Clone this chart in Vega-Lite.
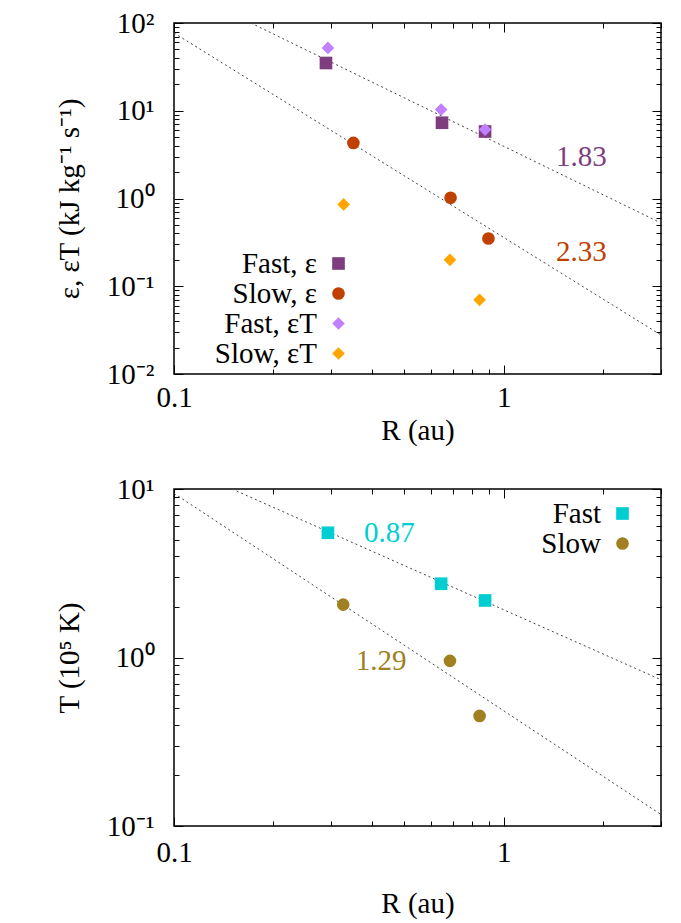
{
  "$schema": "https://vega.github.io/schema/vega-lite/v6.json",
  "background": "white",
  "padding": {"left": 54, "top": 8, "right": 5, "bottom": 5},
  "spacing": 28,
  "config": {
    "font": "Liberation Serif, Times New Roman, serif",
    "view": {"stroke": "#000", "strokeWidth": 1.5},
    "axis": {
      "domain": false, "grid": false,
      "labelFont": "Liberation Serif, Times New Roman, serif", "labelFontSize": 29, "labelColor": "#000",
      "titleFont": "Liberation Serif, Times New Roman, serif", "titleFontSize": 29, "titleFontWeight": "normal", "titleColor": "#000",
      "tickColor": "#000", "tickWidth": 1, "labelOverlap": false, "labelFlush": false, "labelBound": false
    },
    "legend": {
      "orient": "none", "labelFont": "Liberation Serif, Times New Roman, serif", "labelFontSize": 29, "labelColor": "#000",
      "labelAlign": "right", "labelOffset": -36, "labelLimit": 0, "symbolStrokeWidth": 0,
      "rowPadding": 0, "padding": 0, "symbolSize": 160, "title": null
    },
    "text": {"font": "Liberation Serif, Times New Roman, serif"}
  },
  "resolve": {
    "scale": {"color": "independent", "shape": "independent"},
    "legend": {"color": "independent", "shape": "independent"}
  },
  "vconcat": [
    {
      "width": 487, "height": 351,
      "layer": [
        {
          "data": {"values": [
            {"R": 0.171, "v": 100, "fit": "fast"}, {"R": 3, "v": 0.526, "fit": "fast"},
            {"R": 0.1, "v": 77, "fit": "slow"}, {"R": 3, "v": 0.0278, "fit": "slow"}
          ]},
          "mark": {"type": "line", "strokeDash": [2, 3], "color": "#444", "strokeWidth": 1, "clip": true},
          "encoding": {
            "x": {"field": "R", "type": "quantitative",
              "scale": {"type": "log", "domain": [0.1, 3], "nice": false},
              "axis": {"orient": "bottom", "title": "R (au)", "values": [0.1,0.2,0.3,0.4,0.5,0.6,0.7,0.8,0.9,1,2,3],
                "labelExpr": "datum.value==0.1?'0.1':datum.value==1?'1':''",
                "tickSize": {"condition": {"test": "indexof([0.1,1],datum.value)>=0", "value": -9}, "value": -5},
                "labelPadding": 18, "titlePadding": 0}},
            "y": {"field": "v", "type": "quantitative",
              "scale": {"type": "log", "domain": [0.01, 100], "nice": false},
              "axis": {"orient": "left", "title": "ε, εT (kJ kg⁻¹ s⁻¹)",
                "values": [0.01,0.02,0.03,0.04,0.05,0.06,0.07,0.08,0.09,0.1,0.2,0.3,0.4,0.5,0.6,0.7,0.8,0.9,1,2,3,4,5,6,7,8,9,10,20,30,40,50,60,70,80,90,100],
                "labelExpr": "datum.value==100?'10²':datum.value==10?'10¹':datum.value==1?'10⁰':datum.value==0.1?'10⁻¹':datum.value==0.01?'10⁻²':''",
                "tickSize": {"condition": {"test": "indexof([0.01,0.1,1,10,100],datum.value)>=0", "value": -9}, "value": -5},
                "labelPadding": 29, "titlePadding": 22}},
            "detail": {"field": "fit"}
          }
        },
        {
          "data": {"values": [
            {"R": 0.289, "v": 35, "series": "Fast, ε"},
            {"R": 0.650, "v": 7.3, "series": "Fast, ε"},
            {"R": 0.878, "v": 5.8, "series": "Fast, ε"},
            {"R": 0.350, "v": 4.3, "series": "Slow, ε"},
            {"R": 0.690, "v": 1.02, "series": "Slow, ε"},
            {"R": 0.899, "v": 0.35, "series": "Slow, ε"},
            {"R": 0.293, "v": 52, "series": "Fast, εT"},
            {"R": 0.646, "v": 10.3, "series": "Fast, εT"},
            {"R": 0.878, "v": 6.1, "series": "Fast, εT"},
            {"R": 0.327, "v": 0.857, "series": "Slow, εT"},
            {"R": 0.687, "v": 0.20, "series": "Slow, εT"},
            {"R": 0.845, "v": 0.070, "series": "Slow, εT"}
          ]},
          "mark": {"type": "point", "filled": true, "opacity": 1, "size": 160},
          "encoding": {
            "x": {"field": "R", "type": "quantitative",
              "axis": {"orient": "top", "title": null, "labels": false, "values": [0.1,0.2,0.3,0.4,0.5,0.6,0.7,0.8,0.9,1,2,3],
                "tickSize": {"condition": {"test": "indexof([0.1,1],datum.value)>=0", "value": -9}, "value": -5}}},
            "y": {"field": "v", "type": "quantitative",
              "axis": {"orient": "right", "title": null, "labels": false,
                "values": [0.01,0.02,0.03,0.04,0.05,0.06,0.07,0.08,0.09,0.1,0.2,0.3,0.4,0.5,0.6,0.7,0.8,0.9,1,2,3,4,5,6,7,8,9,10,20,30,40,50,60,70,80,90,100],
                "tickSize": {"condition": {"test": "indexof([0.01,0.1,1,10,100],datum.value)>=0", "value": -9}, "value": -5}}},
            "color": {"field": "series", "type": "nominal",
              "scale": {"domain": ["Fast, ε", "Slow, ε", "Fast, εT", "Slow, εT"], "range": ["#7E3D7E", "#C04000", "#C080FF", "#FFA500"]},
              "legend": {"legendX": 150, "legendY": 226}},
            "shape": {"field": "series", "type": "nominal",
              "scale": {"domain": ["Fast, ε", "Slow, ε", "Fast, εT", "Slow, εT"], "range": ["square", "circle", "diamond", "diamond"]},
              "legend": {"legendX": 150, "legendY": 226}}
          }
        },
        {
          "data": {"values": [
            {"R": 1.72, "v": 2.94, "label": "1.83", "series": "Fast, ε"},
            {"R": 1.72, "v": 0.243, "label": "2.33", "series": "Slow, ε"}
          ]},
          "mark": {"type": "text", "fontSize": 29, "align": "center", "baseline": "middle"},
          "encoding": {
            "x": {"field": "R", "type": "quantitative", "axis": null},
            "y": {"field": "v", "type": "quantitative", "axis": null},
            "text": {"field": "label"},
            "color": {"field": "series", "type": "nominal", "legend": null}
          }
        }
      ]
    },
    {
      "width": 487, "height": 337,
      "layer": [
        {
          "data": {"values": [
            {"R": 0.15, "v": 10, "fit": "fast"}, {"R": 3, "v": 0.738, "fit": "fast"},
            {"R": 0.1, "v": 9.42, "fit": "slow"}, {"R": 3, "v": 0.117, "fit": "slow"}
          ]},
          "mark": {"type": "line", "strokeDash": [2, 3], "color": "#444", "strokeWidth": 1, "clip": true},
          "encoding": {
            "x": {"field": "R", "type": "quantitative",
              "scale": {"type": "log", "domain": [0.1, 3], "nice": false},
              "axis": {"orient": "bottom", "title": "R (au)", "values": [0.1,0.2,0.3,0.4,0.5,0.6,0.7,0.8,0.9,1,2,3],
                "labelExpr": "datum.value==0.1?'0.1':datum.value==1?'1':''",
                "tickSize": {"condition": {"test": "indexof([0.1,1],datum.value)>=0", "value": -9}, "value": -5},
                "labelPadding": 21, "titlePadding": 18}},
            "y": {"field": "v", "type": "quantitative",
              "scale": {"type": "log", "domain": [0.1, 10], "nice": false},
              "axis": {"orient": "left", "title": "T (10⁵ K)",
                "values": [0.1,0.2,0.3,0.4,0.5,0.6,0.7,0.8,0.9,1,2,3,4,5,6,7,8,9,10],
                "labelExpr": "datum.value==10?'10¹':datum.value==1?'10⁰':datum.value==0.1?'10⁻¹':''",
                "tickSize": {"condition": {"test": "indexof([0.1,1,10],datum.value)>=0", "value": -9}, "value": -5},
                "labelPadding": 29, "titlePadding": 22}},
            "detail": {"field": "fit"}
          }
        },
        {
          "data": {"values": [
            {"R": 0.293, "v": 5.5, "wind": "Fast"},
            {"R": 0.646, "v": 2.74, "wind": "Fast"},
            {"R": 0.878, "v": 2.18, "wind": "Fast"},
            {"R": 0.326, "v": 2.06, "wind": "Slow"},
            {"R": 0.687, "v": 0.955, "wind": "Slow"},
            {"R": 0.845, "v": 0.45, "wind": "Slow"}
          ]},
          "mark": {"type": "point", "filled": true, "opacity": 1, "size": 160},
          "encoding": {
            "x": {"field": "R", "type": "quantitative",
              "axis": {"orient": "top", "title": null, "labels": false, "values": [0.1,0.2,0.3,0.4,0.5,0.6,0.7,0.8,0.9,1,2,3],
                "tickSize": {"condition": {"test": "indexof([0.1,1],datum.value)>=0", "value": -9}, "value": -5}}},
            "y": {"field": "v", "type": "quantitative",
              "axis": {"orient": "right", "title": null, "labels": false,
                "values": [0.1,0.2,0.3,0.4,0.5,0.6,0.7,0.8,0.9,1,2,3,4,5,6,7,8,9,10],
                "tickSize": {"condition": {"test": "indexof([0.1,1,10],datum.value)>=0", "value": -9}, "value": -5}}},
            "color": {"field": "wind", "type": "nominal",
              "scale": {"domain": ["Fast", "Slow"], "range": ["#00CED1", "#A08020"]},
              "legend": {"legendX": 434, "legendY": 10}},
            "shape": {"field": "wind", "type": "nominal",
              "scale": {"domain": ["Fast", "Slow"], "range": ["square", "circle"]},
              "legend": {"legendX": 434, "legendY": 10}}
          }
        },
        {
          "data": {"values": [
            {"R": 0.45, "v": 5.45, "label": "0.87", "wind": "Fast"},
            {"R": 0.425, "v": 0.955, "label": "1.29", "wind": "Slow"}
          ]},
          "mark": {"type": "text", "fontSize": 29, "align": "center", "baseline": "middle"},
          "encoding": {
            "x": {"field": "R", "type": "quantitative", "axis": null},
            "y": {"field": "v", "type": "quantitative", "axis": null},
            "text": {"field": "label"},
            "color": {"field": "wind", "type": "nominal", "legend": null}
          }
        }
      ]
    }
  ]
}
